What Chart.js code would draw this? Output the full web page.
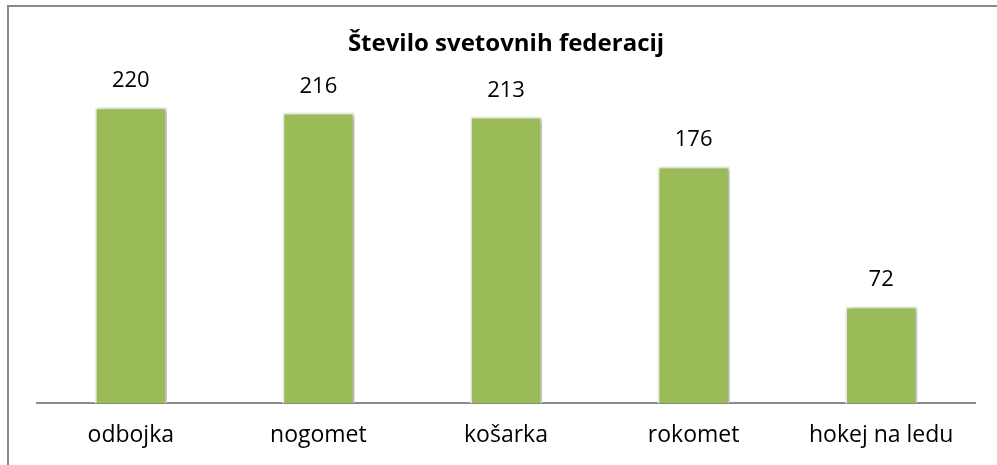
<!DOCTYPE html>
<html>
<head>
<meta charset="utf-8">
<script src="https://cdn.jsdelivr.net/npm/chart.js@4/dist/chart.umd.min.js"></script>
<style>
  body { margin: 0; background: #fff; overflow: hidden; }
  #frame { position: absolute; left: 7px; top: 5px; width: 1010px; height: 480px; border: 2px solid #8a8a8a; }
  #wrap { position: absolute; left: 0; top: 0; width: 997px; height: 465px; }
</style>
</head>
<body>
<div id="frame"></div>
<div id="wrap"><canvas id="myChart"></canvas></div>
<script>
const titleText = 'Število svetovnih federacij';
const sports = ['odbojka', 'nogomet', 'košarka', 'rokomet', 'hokej na ledu'];
const federations = [220, 216, 213, 176, 72];
const fontName = '"Open Sans", "Liberation Sans", sans-serif';

// shadow behind bars, like the office chart
const barShadow = {
  id: 'barShadow',
  beforeDatasetsDraw(chart) {
    const ctx = chart.ctx;
    ctx.save();
    ctx.shadowColor = 'rgba(0,0,0,0.3)';
    ctx.shadowBlur = 4;
    ctx.shadowOffsetX = 2;
    ctx.shadowOffsetY = 1;
  },
  afterDatasetsDraw(chart) {
    chart.ctx.restore();
  }
};

// value labels above bars
const valueLabels = {
  id: 'valueLabels',
  afterDraw(chart) {
    const ctx = chart.ctx;
    const meta = chart.getDatasetMeta(0);
    ctx.save();
    ctx.fillStyle = '#000';
    ctx.font = '22px ' + fontName;
    ctx.textAlign = 'center';
    ctx.textBaseline = 'alphabetic';
    meta.data.forEach((bar, i) => {
      ctx.fillText(String(federations[i]), bar.x, bar.y - 20);
    });
    ctx.restore();
  }
};

const data = {
  labels: sports,
  datasets: [{
    data: federations,
    backgroundColor: '#9bbb59',
    borderColor: '#eef3e4',
    borderWidth: 2,
    barPercentage: 0.385,
    categoryPercentage: 1
  }]
};

const config = {
  type: 'bar',
  data: data,
  options: {
    responsive: true,
    maintainAspectRatio: false,
    animation: false,
    layout: { padding: { left: 37, right: 22, top: 0, bottom: -2 } },
    plugins: {
      legend: { display: false },
      tooltip: { enabled: false },
      title: {
        display: true,
        text: titleText,
        color: '#000',
        font: { family: fontName, size: 24, weight: 'bold' },
        padding: { top: 30, bottom: 8 }
      }
    },
    scales: {
      x: {
        grid: { display: false, drawTicks: false },
        border: { display: true, color: '#8a8a8a', width: 2 },
        ticks: { color: '#000', padding: 18, font: { family: fontName, size: 23 } }
      },
      y: {
        display: false,
        min: 0,
        max: 250
      }
    }
  },
  plugins: [barShadow, valueLabels]
};

window.addEventListener('DOMContentLoaded', () => {
  new Chart(document.getElementById('myChart'), config);
});
</script>
</body>
</html>
